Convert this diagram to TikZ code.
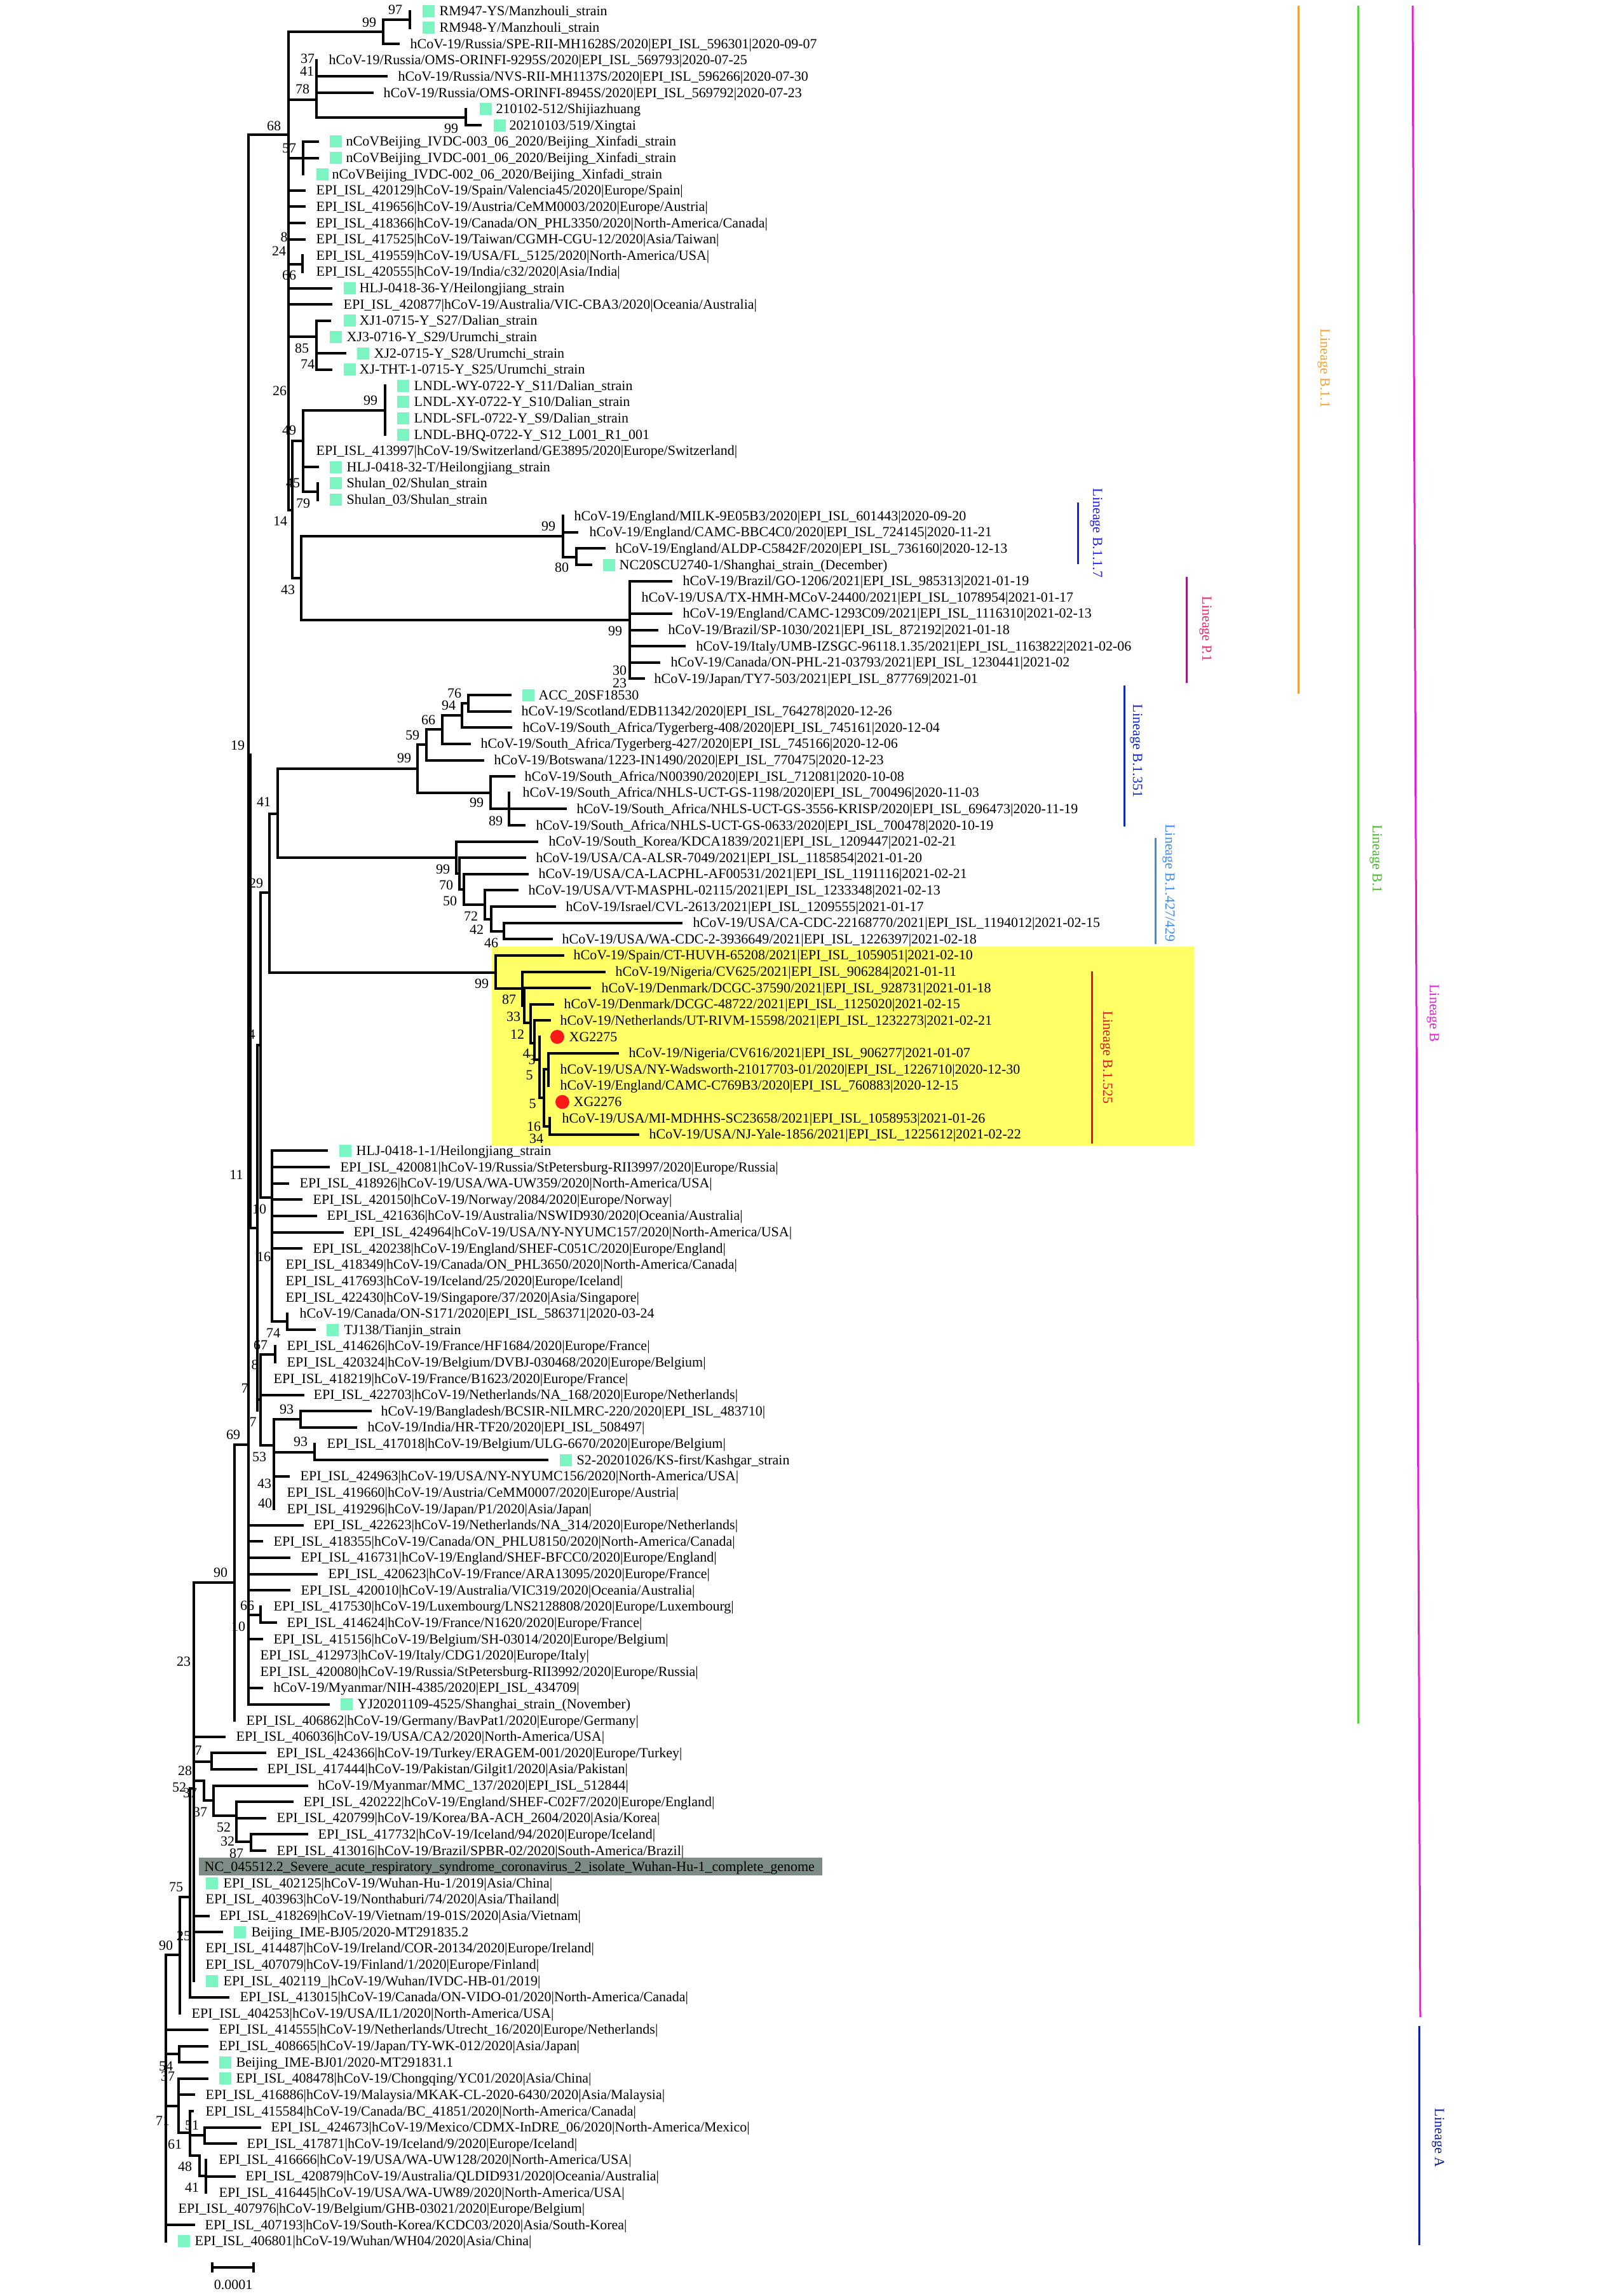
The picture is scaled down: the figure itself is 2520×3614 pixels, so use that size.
\documentclass[tikz,border=0pt]{standalone}
\usepackage{fontspec}
\setmainfont{Liberation Serif}
\newcommand\labfont{\fontsize{6.26pt}{7pt}\selectfont}
\definecolor{sqc}{RGB}{125,245,195}
\definecolor{ybox}{RGB}{255,255,102}
\definecolor{gbox}{RGB}{125,140,133}
\definecolor{cOr}{RGB}{245,160,50}
\definecolor{cGr}{RGB}{80,215,60}
\definecolor{cGrT}{RGB}{70,185,40}
\definecolor{cMg}{RGB}{228,30,212}
\definecolor{cA}{RGB}{12,30,160}
\definecolor{cBa}{RGB}{30,30,235}
\definecolor{cPa}{RGB}{150,30,140}
\definecolor{cPt}{RGB}{232,40,110}
\definecolor{cBb}{RGB}{12,40,190}
\definecolor{cBc}{RGB}{60,140,240}
\definecolor{cBd}{RGB}{220,20,20}
\definecolor{cDot}{RGB}{250,25,25}
\tikzset{
  br/.style={line width=0.4mm, line cap=rect},
  lab/.style={anchor=base west, inner sep=0pt, font=\labfont},
  bsn/.style={anchor=center, inner sep=0pt, font=\labfont},
  lin/.style={line width=0.3mm},
  lt/.style={rotate=-90, anchor=center, inner sep=0pt, font=\labfont},
}
\newcommand\Y[1]{18+(#1-1)*25.62}
\newcommand\lf[5]{\draw[br] (#2,{\Y{#1}}) -- (#3,{\Y{#1}}); \node[lab] (t#1) at (#4,{\Y{#1}+7}) {#5};}
\newcommand\lz[3]{\node[lab] (t#1) at (#2,{\Y{#1}+7}) {#3};}
\newcommand\sq[2]{\fill[sqc] (#2,{\Y{#1}-9.5}) rectangle ++(19,19);}
\newcommand\vl[3]{\draw[br] (#1,{#2}) -- (#1,{#3});}
\newcommand\hl[3]{\draw[br] (#2,{#1}) -- (#3,{#1});}
\newcommand\bs[4]{\node[bsn] (b#1) at (#2,#3) {#4};}
\begin{document}
\begin{tikzpicture}[x=0.1mm,y=-0.1mm]
\useasboundingbox (0,0) rectangle (2520,3614);
\fill[white] (0,0) rectangle (2520,3614);
% highlight boxes
\fill[ybox] (774,1490) rectangle (1879,1804);
\fill[gbox] (313,2924) rectangle (1294,2952);
% ---------- internal branches ----------
\vl{391}{212}{\Y{105}}
\vl{394}{1188}{1933}
\hl{212}{391}{454}
\vl{454}{50}{803}
\hl{50}{454}{603}
\vl{603}{31}{\Y{3}}
\hl{31}{603}{645}
\vl{645}{\Y{1}}{\Y{2}}
\hl{157}{454}{498}
\vl{498}{\Y{4}}{185}
\hl{185}{498}{733}
\vl{733}{\Y{7}}{\Y{8}}
\hl{\Y{10}}{454}{477}
\vl{477}{\Y{9}}{\Y{11}}
\hl{416}{454}{476}
\vl{476}{\Y{16}}{\Y{17}}
\hl{\Y{21}}{454}{498}
\vl{498}{\Y{20}}{\Y{23}}
\vl{460}{694}{910}
\hl{803}{454}{460}
\hl{694}{460}{477}
\vl{477}{646}{774}
\hl{646}{477}{606}
\vl{606}{\Y{24}}{\Y{27}}
\hl{774}{477}{500}
\vl{500}{\Y{30}}{\Y{31}}
\hl{910}{460}{474}
\vl{474}{844}{976}
\hl{844}{474}{886}
\vl{886}{\Y{32}}{877}
\hl{877}{886}{907}
\vl{907}{\Y{34}}{\Y{35}}
\hl{976}{474}{991}
\vl{991}{\Y{36}}{\Y{42}}
% B.1.351 / B.1.427 / B.1.525
\vl{437}{1210}{1350}
\hl{1210}{437}{657}
\vl{657}{1172}{1248}
\hl{1172}{657}{671}
\vl{671}{1148}{\Y{47}}
\hl{1148}{671}{696}
\vl{696}{1126}{\Y{46}}
\hl{1126}{696}{727}
\vl{727}{1107}{\Y{45}}
\hl{1107}{727}{737}
\vl{737}{\Y{43}}{\Y{44}}
\hl{1248}{657}{772}
\vl{772}{\Y{48}}{\Y{50}}
\vl{801}{\Y{49}}{\Y{51}}
\hl{1350}{437}{718}
\vl{718}{\Y{52}}{1375}
\hl{1375}{718}{723}
\vl{723}{\Y{53}}{1400}
\hl{1400}{723}{730}
\vl{730}{\Y{54}}{1424}
\hl{1424}{730}{763}
\vl{763}{\Y{55}}{1447}
\hl{1447}{763}{773}
\vl{773}{\Y{56}}{1466}
\hl{1466}{773}{793}
\vl{793}{\Y{57}}{\Y{58}}
\hl{1281}{424}{437}
\vl{424}{1281}{1531}
\hl{1405}{410}{424}
\vl{410}{1405}{1885}
\hl{1531}{424}{780}
\vl{780}{\Y{59}}{1556}
\hl{1556}{780}{822}
\vl{822}{\Y{60}}{1583}
\hl{1583}{822}{825}
\vl{825}{\Y{61}}{1610}
\hl{1610}{825}{835}
\vl{835}{\Y{62}}{1642}
\hl{1642}{835}{841}
\vl{841}{\Y{63}}{1668}
\hl{1668}{841}{849}
\vl{849}{\Y{64}}{1728}
\hl{1728}{849}{856}
\vl{856}{1683}{1773}
\hl{1683}{856}{863}
\vl{863}{\Y{65}}{\Y{67}}
\hl{1773}{856}{865}
\vl{865}{\Y{69}}{\Y{70}}
% middle
\hl{1645}{405}{410}
\vl{405}{1645}{2220}
\hl{1933}{394}{405}
\hl{1885}{410}{428}
\vl{428}{\Y{71}}{2080}
\hl{2080}{428}{452}
\vl{452}{\Y{81}}{\Y{82}}
\hl{2203}{405}{410}
\vl{410}{2132}{2275}
\hl{2132}{410}{433}
\vl{433}{\Y{83}}{\Y{84}}
\hl{2275}{410}{431}
\vl{431}{2234}{\Y{93}}
\hl{2234}{431}{473}
\vl{473}{\Y{87}}{\Y{88}}
\hl{2286}{431}{495}
\vl{495}{\Y{89}}{\Y{90}}
% lower
\hl{2274}{369}{391}
\vl{369}{2274}{\Y{106}}
\hl{2491}{305}{369}
\hl{2542}{391}{410}
\vl{410}{\Y{99}}{\Y{100}}
\vl{305}{2491}{\Y{122}}
\hl{2773}{305}{333}
\vl{333}{\Y{108}}{\Y{109}}
\hl{2803}{305}{321}
\vl{321}{2803}{2834}
\hl{2834}{321}{336}
\vl{336}{\Y{110}}{2858}
\hl{2858}{336}{372}
\vl{372}{\Y{111}}{2899}
\hl{2899}{372}{395}
\vl{395}{\Y{113}}{\Y{114}}
\vl{299}{2815}{\Y{123}}
\hl{2815}{299}{305}
\hl{2986}{283}{299}
\vl{283}{2986}{\Y{124}}
\hl{3077}{261}{283}
\vl{261}{3077}{\Y{138}}
\hl{3233}{261}{282}
\vl{282}{\Y{126}}{\Y{127}}
\hl{3315}{261}{281}
\vl{281}{\Y{128}}{3357}
\hl{3357}{281}{299}
\vl{299}{\Y{130}}{3393}
\hl{3361}{299}{322}
\vl{322}{\Y{131}}{\Y{132}}
\hl{3393}{299}{314}
\vl{314}{3393}{3425}
\hl{3425}{314}{324}
\vl{324}{\Y{133}}{\Y{135}}
% ---------- leaves ----------
\sq{1}{665}\lz{1}{691}{RM947-YS/Manzhouli\_strain}
\sq{2}{665}\lz{2}{691}{RM948-Y/Manzhouli\_strain}
\lf{3}{603}{627}{645}{hCoV-19/Russia/SPE-RII-MH1628S/2020|EPI\_ISL\_596301|2020-09-07}
\lz{4}{517}{hCoV-19/Russia/OMS-ORINFI-9295S/2020|EPI\_ISL\_569793|2020-07-25}
\lf{5}{498}{608}{626}{hCoV-19/Russia/NVS-RII-MH1137S/2020|EPI\_ISL\_596266|2020-07-30}
\lf{6}{498}{586}{603}{hCoV-19/Russia/OMS-ORINFI-8945S/2020|EPI\_ISL\_569792|2020-07-23}
\sq{7}{755}\lz{7}{780}{210102-512/Shijiazhuang}
\lf{8}{733}{756}{801}{20210103/519/Xingtai}\sq{8}{777}
\lf{9}{477}{500}{544}{nCoVBeijing\_IVDC-003\_06\_2020/Beijing\_Xinfadi\_strain}\sq{9}{519}
\lf{10}{477}{500}{544}{nCoVBeijing\_IVDC-001\_06\_2020/Beijing\_Xinfadi\_strain}\sq{10}{519}
\lz{11}{522}{nCoVBeijing\_IVDC-002\_06\_2020/Beijing\_Xinfadi\_strain}\sq{11}{498}
\lf{12}{454}{479}{497}{EPI\_ISL\_420129|hCoV-19/Spain/Valencia45/2020|Europe/Spain|}
\lf{13}{454}{479}{497}{EPI\_ISL\_419656|hCoV-19/Austria/CeMM0003/2020|Europe/Austria|}
\lf{14}{454}{479}{497}{EPI\_ISL\_418366|hCoV-19/Canada/ON\_PHL3350/2020|North-America/Canada|}
\lf{15}{454}{479}{497}{EPI\_ISL\_417525|hCoV-19/Taiwan/CGMH-CGU-12/2020|Asia/Taiwan|}
\lz{16}{497}{EPI\_ISL\_419559|hCoV-19/USA/FL\_5125/2020|North-America/USA|}
\lz{17}{497}{EPI\_ISL\_420555|hCoV-19/India/c32/2020|Asia/India|}
\lf{18}{454}{521}{565}{HLJ-0418-36-Y/Heilongjiang\_strain}\sq{18}{541}
\lf{19}{454}{521}{540}{EPI\_ISL\_420877|hCoV-19/Australia/VIC-CBA3/2020|Oceania/Australia|}
\lf{20}{498}{519}{565}{XJ1-0715-Y\_S27/Dalian\_strain}\sq{20}{541}
\lz{21}{545}{XJ3-0716-Y\_S29/Urumchi\_strain}\sq{21}{519}
\lf{22}{498}{543}{588}{XJ2-0715-Y\_S28/Urumchi\_strain}\sq{22}{562}
\lf{23}{498}{521}{565}{XJ-THT-1-0715-Y\_S25/Urumchi\_strain}\sq{23}{541}
\lz{24}{651}{LNDL-WY-0722-Y\_S11/Dalian\_strain}\sq{24}{625}
\lz{25}{651}{LNDL-XY-0722-Y\_S10/Dalian\_strain}\sq{25}{625}
\lz{26}{651}{LNDL-SFL-0722-Y\_S9/Dalian\_strain}\sq{26}{625}
\lz{27}{651}{LNDL-BHQ-0722-Y\_S12\_L001\_R1\_001}\sq{27}{625}
\lz{28}{497}{EPI\_ISL\_413997|hCoV-19/Switzerland/GE3895/2020|Europe/Switzerland|}
\lf{29}{477}{500}{545}{HLJ-0418-32-T/Heilongjiang\_strain}\sq{29}{519}
\lz{30}{545}{Shulan\_02/Shulan\_strain}\sq{30}{519}
\lz{31}{545}{Shulan\_03/Shulan\_strain}\sq{31}{519}
\lz{32}{903}{hCoV-19/England/MILK-9E05B3/2020|EPI\_ISL\_601443|2020-09-20}
\lf{33}{886}{908}{927}{hCoV-19/England/CAMC-BBC4C0/2020|EPI\_ISL\_724145|2020-11-21}
\lf{34}{907}{951}{968}{hCoV-19/England/ALDP-C5842F/2020|EPI\_ISL\_736160|2020-12-13}
\lf{35}{907}{930}{974}{NC20SCU2740-1/Shanghai\_strain\_(December)}\sq{35}{949}
\lf{36}{991}{1056}{1074}{hCoV-19/Brazil/GO-1206/2021|EPI\_ISL\_985313|2021-01-19}
\lz{37}{1009}{hCoV-19/USA/TX-HMH-MCoV-24400/2021|EPI\_ISL\_1078954|2021-01-17}
\lf{38}{991}{1056}{1074}{hCoV-19/England/CAMC-1293C09/2021|EPI\_ISL\_1116310|2021-02-13}
\lf{39}{991}{1034}{1051}{hCoV-19/Brazil/SP-1030/2021|EPI\_ISL\_872192|2021-01-18}
\lf{40}{991}{1077}{1095}{hCoV-19/Italy/UMB-IZSGC-96118.1.35/2021|EPI\_ISL\_1163822|2021-02-06}
\lf{41}{991}{1037}{1055}{hCoV-19/Canada/ON-PHL-21-03793/2021|EPI\_ISL\_1230441|2021-02}
\lf{42}{991}{1013}{1029}{hCoV-19/Japan/TY7-503/2021|EPI\_ISL\_877769|2021-01}
\lf{43}{737}{803}{847}{ACC\_20SF18530}\sq{43}{822}
\lf{44}{737}{803}{820}{hCoV-19/Scotland/EDB11342/2020|EPI\_ISL\_764278|2020-12-26}
\lf{45}{727}{804}{822}{hCoV-19/South\_Africa/Tygerberg-408/2020|EPI\_ISL\_745161|2020-12-04}
\lf{46}{696}{739}{756}{hCoV-19/South\_Africa/Tygerberg-427/2020|EPI\_ISL\_745166|2020-12-06}
\lf{47}{671}{760}{777}{hCoV-19/Botswana/1223-IN1490/2020|EPI\_ISL\_770475|2020-12-23}
\lf{48}{772}{809}{825}{hCoV-19/South\_Africa/N00390/2020|EPI\_ISL\_712081|2020-10-08}
\lz{49}{822}{hCoV-19/South\_Africa/NHLS-UCT-GS-1198/2020|EPI\_ISL\_700496|2020-11-03}
\lf{50}{772}{890}{907}{hCoV-19/South\_Africa/NHLS-UCT-GS-3556-KRISP/2020|EPI\_ISL\_696473|2020-11-19}
\lf{51}{801}{825}{843}{hCoV-19/South\_Africa/NHLS-UCT-GS-0633/2020|EPI\_ISL\_700478|2020-10-19}
\lf{52}{718}{845}{863}{hCoV-19/South\_Korea/KDCA1839/2021|EPI\_ISL\_1209447|2021-02-21}
\lf{53}{723}{826}{843}{hCoV-19/USA/CA-ALSR-7049/2021|EPI\_ISL\_1185854|2021-01-20}
\lf{54}{730}{830}{847}{hCoV-19/USA/CA-LACPHL-AF00531/2021|EPI\_ISL\_1191116|2021-02-21}
\lf{55}{763}{814}{831}{hCoV-19/USA/VT-MASPHL-02115/2021|EPI\_ISL\_1233348|2021-02-13}
\lf{56}{773}{873}{890}{hCoV-19/Israel/CVL-2613/2021|EPI\_ISL\_1209555|2021-01-17}
\lf{57}{793}{1072}{1090}{hCoV-19/USA/CA-CDC-22168770/2021|EPI\_ISL\_1194012|2021-02-15}
\lf{58}{793}{868}{884}{hCoV-19/USA/WA-CDC-2-3936649/2021|EPI\_ISL\_1226397|2021-02-18}
\lf{59}{780}{886}{902}{hCoV-19/Spain/CT-HUVH-65208/2021|EPI\_ISL\_1059051|2021-02-10}
\lf{60}{822}{951}{968}{hCoV-19/Nigeria/CV625/2021|EPI\_ISL\_906284|2021-01-11}
\lf{61}{825}{928}{946}{hCoV-19/Denmark/DCGC-37590/2021|EPI\_ISL\_928731|2021-01-18}
\lf{62}{835}{870}{887}{hCoV-19/Denmark/DCGC-48722/2021|EPI\_ISL\_1125020|2021-02-15}
\lf{63}{841}{865}{881}{hCoV-19/Netherlands/UT-RIVM-15598/2021|EPI\_ISL\_1232273|2021-02-21}
\fill[cDot] (877,{\Y{64}}) circle[radius=1.1mm];
\lz{64}{895}{XG2275}
\lf{65}{863}{972}{989}{hCoV-19/Nigeria/CV616/2021|EPI\_ISL\_906277|2021-01-07}
\lz{66}{881}{hCoV-19/USA/NY-Wadsworth-21017703-01/2020|EPI\_ISL\_1226710|2020-12-30}
\lz{67}{881}{hCoV-19/England/CAMC-C769B3/2020|EPI\_ISL\_760883|2020-12-15}
\fill[cDot] (885,{\Y{68}}) circle[radius=1.1mm];
\lz{68}{902}{XG2276}
\lz{69}{884}{hCoV-19/USA/MI-MDHHS-SC23658/2021|EPI\_ISL\_1058953|2021-01-26}
\lf{70}{865}{1004}{1021}{hCoV-19/USA/NJ-Yale-1856/2021|EPI\_ISL\_1225612|2021-02-22}
\lf{71}{428}{514}{560}{HLJ-0418-1-1/Heilongjiang\_strain}\sq{71}{534}
\lf{72}{428}{517}{535}{EPI\_ISL\_420081|hCoV-19/Russia/StPetersburg-RII3997/2020|Europe/Russia|}
\lf{73}{428}{453}{471}{EPI\_ISL\_418926|hCoV-19/USA/WA-UW359/2020|North-America/USA|}
\lf{74}{428}{474}{492}{EPI\_ISL\_420150|hCoV-19/Norway/2084/2020|Europe/Norway|}
\lf{75}{428}{497}{514}{EPI\_ISL\_421636|hCoV-19/Australia/NSWID930/2020|Oceania/Australia|}
\lf{76}{428}{539}{556}{EPI\_ISL\_424964|hCoV-19/USA/NY-NYUMC157/2020|North-America/USA|}
\lf{77}{428}{474}{492}{EPI\_ISL\_420238|hCoV-19/England/SHEF-C051C/2020|Europe/England|}
\lz{78}{449}{EPI\_ISL\_418349|hCoV-19/Canada/ON\_PHL3650/2020|North-America/Canada|}
\lz{79}{449}{EPI\_ISL\_417693|hCoV-19/Iceland/25/2020|Europe/Iceland|}
\lz{80}{449}{EPI\_ISL\_422430|hCoV-19/Singapore/37/2020|Asia/Singapore|}
\lz{81}{471}{hCoV-19/Canada/ON-S171/2020|EPI\_ISL\_586371|2020-03-24}
\lf{82}{452}{495}{541}{TJ138/Tianjin\_strain}\sq{82}{514}
\lz{83}{451}{EPI\_ISL\_414626|hCoV-19/France/HF1684/2020|Europe/France|}
\lz{84}{451}{EPI\_ISL\_420324|hCoV-19/Belgium/DVBJ-030468/2020|Europe/Belgium|}
\lz{85}{430}{EPI\_ISL\_418219|hCoV-19/France/B1623/2020|Europe/France|}
\lf{86}{410}{477}{493}{EPI\_ISL\_422703|hCoV-19/Netherlands/NA\_168/2020|Europe/Netherlands|}
\lf{87}{473}{583}{599}{hCoV-19/Bangladesh/BCSIR-NILMRC-220/2020|EPI\_ISL\_483710|}
\lf{88}{473}{560}{578}{hCoV-19/India/HR-TF20/2020|EPI\_ISL\_508497|}
\lz{89}{514}{EPI\_ISL\_417018|hCoV-19/Belgium/ULG-6670/2020|Europe/Belgium|}
\lf{90}{495}{861}{907}{S2-20201026/KS-first/Kashgar\_strain}\sq{90}{881}
\lf{91}{431}{454}{472}{EPI\_ISL\_424963|hCoV-19/USA/NY-NYUMC156/2020|North-America/USA|}
\lz{92}{451}{EPI\_ISL\_419660|hCoV-19/Austria/CeMM0007/2020|Europe/Austria|}
\lz{93}{451}{EPI\_ISL\_419296|hCoV-19/Japan/P1/2020|Asia/Japan|}
\lf{94}{391}{476}{493}{EPI\_ISL\_422623|hCoV-19/Netherlands/NA\_314/2020|Europe/Netherlands|}
\lf{95}{391}{412}{430}{EPI\_ISL\_418355|hCoV-19/Canada/ON\_PHLU8150/2020|North-America/Canada|}
\lf{96}{391}{455}{473}{EPI\_ISL\_416731|hCoV-19/England/SHEF-BFCC0/2020|Europe/England|}
\lf{97}{391}{498}{516}{EPI\_ISL\_420623|hCoV-19/France/ARA13095/2020|Europe/France|}
\lf{98}{391}{455}{473}{EPI\_ISL\_420010|hCoV-19/Australia/VIC319/2020|Oceania/Australia|}
\lz{99}{430}{EPI\_ISL\_417530|hCoV-19/Luxembourg/LNS2128808/2020|Europe/Luxembourg|}
\lf{100}{410}{434}{451}{EPI\_ISL\_414624|hCoV-19/France/N1620/2020|Europe/France|}
\lf{101}{391}{412}{430}{EPI\_ISL\_415156|hCoV-19/Belgium/SH-03014/2020|Europe/Belgium|}
\lz{102}{409}{EPI\_ISL\_412973|hCoV-19/Italy/CDG1/2020|Europe/Italy|}
\lz{103}{409}{EPI\_ISL\_420080|hCoV-19/Russia/StPetersburg-RII3992/2020|Europe/Russia|}
\lf{104}{391}{412}{430}{hCoV-19/Myanmar/NIH-4385/2020|EPI\_ISL\_434709|}
\lf{105}{391}{517}{562}{YJ20201109-4525/Shanghai\_strain\_(November)}\sq{105}{536}
\lz{106}{387}{EPI\_ISL\_406862|hCoV-19/Germany/BavPat1/2020|Europe/Germany|}
\lf{107}{305}{353}{371}{EPI\_ISL\_406036|hCoV-19/USA/CA2/2020|North-America/USA|}
\lf{108}{333}{417}{435}{EPI\_ISL\_424366|hCoV-19/Turkey/ERAGEM-001/2020|Europe/Turkey|}
\lf{109}{333}{403}{420}{EPI\_ISL\_417444|hCoV-19/Pakistan/Gilgit1/2020|Asia/Pakistan|}
\lf{110}{336}{483}{500}{hCoV-19/Myanmar/MMC\_137/2020|EPI\_ISL\_512844|}
\lf{111}{372}{460}{477}{EPI\_ISL\_420222|hCoV-19/England/SHEF-C02F7/2020|Europe/England|}
\lf{112}{372}{417}{435}{EPI\_ISL\_420799|hCoV-19/Korea/BA-ACH\_2604/2020|Asia/Korea|}
\lf{113}{395}{483}{500}{EPI\_ISL\_417732|hCoV-19/Iceland/94/2020|Europe/Iceland|}
\lf{114}{395}{417}{435}{EPI\_ISL\_413016|hCoV-19/Brazil/SPBR-02/2020|South-America/Brazil|}
\lz{115}{321}{NC\_045512.2\_Severe\_acute\_respiratory\_syndrome\_coronavirus\_2\_isolate\_Wuhan-Hu-1\_complete\_genome}
\lz{116}{351}{EPI\_ISL\_402125|hCoV-19/Wuhan-Hu-1/2019|Asia/China|}\sq{116}{324}
\lz{117}{323}{EPI\_ISL\_403963|hCoV-19/Nonthaburi/74/2020|Asia/Thailand|}
\lf{118}{305}{328}{345}{EPI\_ISL\_418269|hCoV-19/Vietnam/19-01S/2020|Asia/Vietnam|}
\lf{119}{305}{349}{395}{Beijing\_IME-BJ05/2020-MT291835.2}\sq{119}{368}
\lz{120}{323}{EPI\_ISL\_414487|hCoV-19/Ireland/COR-20134/2020|Europe/Ireland|}
\lz{121}{323}{EPI\_ISL\_407079|hCoV-19/Finland/1/2020|Europe/Finland|}
\lz{122}{351}{EPI\_ISL\_402119\_|hCoV-19/Wuhan/IVDC-HB-01/2019|}\sq{122}{324}
\lf{123}{299}{359}{377}{EPI\_ISL\_413015|hCoV-19/Canada/ON-VIDO-01/2020|North-America/Canada|}
\lz{124}{301}{EPI\_ISL\_404253|hCoV-19/USA/IL1/2020|North-America/USA|}
\lf{125}{261}{326}{344}{EPI\_ISL\_414555|hCoV-19/Netherlands/Utrecht\_16/2020|Europe/Netherlands|}
\lf{126}{282}{326}{344}{EPI\_ISL\_408665|hCoV-19/Japan/TY-WK-012/2020|Asia/Japan|}
\lf{127}{282}{326}{371}{Beijing\_IME-BJ01/2020-MT291831.1}\sq{127}{345}
\lf{128}{281}{326}{371}{EPI\_ISL\_408478|hCoV-19/Chongqing/YC01/2020|Asia/China|}\sq{128}{345}
\lf{129}{281}{305}{323}{EPI\_ISL\_416886|hCoV-19/Malaysia/MKAK-CL-2020-6430/2020|Asia/Malaysia|}
\lf{130}{299}{303}{323}{EPI\_ISL\_415584|hCoV-19/Canada/BC\_41851/2020|North-America/Canada|}
\lf{131}{322}{409}{426}{EPI\_ISL\_424673|hCoV-19/Mexico/CDMX-InDRE\_06/2020|North-America/Mexico|}
\lf{132}{322}{371}{388}{EPI\_ISL\_417871|hCoV-19/Iceland/9/2020|Europe/Iceland|}
\lz{133}{344}{EPI\_ISL\_416666|hCoV-19/USA/WA-UW128/2020|North-America/USA|}
\lf{134}{324}{369}{386}{EPI\_ISL\_420879|hCoV-19/Australia/QLDID931/2020|Oceania/Australia|}
\lz{135}{344}{EPI\_ISL\_416445|hCoV-19/USA/WA-UW89/2020|North-America/USA|}
\lz{136}{280}{EPI\_ISL\_407976|hCoV-19/Belgium/GHB-03021/2020|Europe/Belgium|}
\lf{137}{261}{305}{322}{EPI\_ISL\_407193|hCoV-19/South-Korea/KCDC03/2020|Asia/South-Korea|}
\lz{138}{306}{EPI\_ISL\_406801|hCoV-19/Wuhan/WH04/2020|Asia/China|}\sq{138}{280}
% ---------- bootstrap values ----------
\bs{1}{622}{15}{97}
\bs{2}{581}{35}{99}
\bs{3}{484}{92}{37}
\bs{4}{483}{112}{41}
\bs{5}{476}{140}{78}
\bs{6}{710}{202}{99}
\bs{7}{431}{198}{68}
\bs{8}{455}{233}{57}
\bs{9}{447}{373}{8}
\bs{10}{439}{395}{24}
\bs{11}{455}{433}{66}
\bs{12}{475}{548}{85}
\bs{13}{484}{573}{74}
\bs{14}{440}{615}{26}
\bs{15}{583}{630}{99}
\bs{16}{455}{677}{49}
\bs{17}{461}{760}{45}
\bs{18}{477}{792}{79}
\bs{19}{441}{820}{14}
\bs{20}{863}{828}{99}
\bs{21}{884}{893}{80}
\bs{22}{453}{928}{43}
\bs{23}{968}{993}{99}
\bs{24}{975}{1055}{30}
\bs{25}{975}{1075}{23}
\bs{26}{715}{1091}{76}
\bs{27}{706}{1110}{94}
\bs{28}{674}{1133}{66}
\bs{29}{649}{1157}{59}
\bs{30}{636}{1193}{99}
\bs{31}{374}{1173}{19}
\bs{32}{415}{1262}{41}
\bs{33}{750}{1263}{99}
\bs{34}{780}{1292}{89}
\bs{35}{697}{1368}{99}
\bs{36}{702}{1393}{70}
\bs{37}{708}{1418}{50}
\bs{38}{741}{1442}{72}
\bs{39}{750}{1463}{42}
\bs{40}{773}{1484}{46}
\bs{41}{403}{1390}{29}
\bs{42}{758}{1548}{99}
\bs{43}{801}{1573}{87}
\bs{44}{808}{1600}{33}
\bs{45}{814}{1628}{12}
\bs{46}{828}{1658}{4}
\bs{47}{837}{1668}{3}
\bs{48}{833}{1692}{5}
\bs{49}{838}{1737}{5}
\bs{50}{840}{1773}{16}
\bs{51}{844}{1792}{34}
\bs{52}{396}{1628}{4}
\bs{53}{372}{1849}{11}
\bs{54}{408}{1903}{10}
\bs{55}{415}{1978}{16}
\bs{56}{430}{2098}{74}
\bs{57}{410}{2117}{67}
\bs{58}{401}{2148}{8}
\bs{59}{385}{2185}{7}
\bs{60}{398}{2238}{7}
\bs{61}{451}{2218}{93}
\bs{62}{473}{2269}{93}
\bs{63}{408}{2293}{53}
\bs{64}{416}{2335}{43}
\bs{65}{417}{2366}{40}
\bs{66}{367}{2258}{69}
\bs{67}{347}{2475}{90}
\bs{68}{389}{2527}{66}
\bs{69}{375}{2560}{10}
\bs{70}{289}{2615}{23}
\bs{71}{312}{2755}{7}
\bs{72}{291}{2787}{28}
\bs{73}{282}{2813}{52}
\bs{74}{299}{2822}{37}
\bs{75}{315}{2852}{37}
\bs{76}{352}{2876}{52}
\bs{77}{358}{2898}{32}
\bs{78}{372}{2917}{87}
\bs{79}{277}{2970}{75}
\bs{80}{289}{3047}{25}
\bs{81}{261}{3062}{90}
\bs{82}{261}{3252}{54}
\bs{83}{264}{3268}{37}
\bs{84}{256}{3338}{71}
\bs{85}{302}{3345}{51}
\bs{86}{275}{3375}{61}
\bs{87}{291}{3410}{48}
\bs{88}{302}{3443}{41}
% ---------- lineage bars ----------
\draw[lin,cBa] (1696,791) -- (1696,888);
\node[lt,text=cBa] (lBa) at (1725,839) {Lineage B.1.1.7};
\draw[lin,cPa] (1867,908) -- (1867,1075);
\node[lt,text=cPt] (lPa) at (1897,990) {Lineage P.1};
\draw[lin,cBb] (1769,1079) -- (1769,1301);
\node[lt,text=cBb] (lBb) at (1788,1182) {Lineage B.1.351};
\draw[lin,cBc] (1818,1319) -- (1818,1486);
\node[lt,text=cBc] (lBc) at (1839,1390) {Lineage B.1.427/429};
\draw[lin,cBd] (1718,1529) -- (1718,1800);
\node[lt,text=cBd] (lBd) at (1741,1664) {Lineage B.1.525};
\draw[lin,cOr] (2043,9) -- (2043,1092);
\node[lt,text=cOr] (lOr) at (2083,580) {Lineage B.1.1};
\draw[lin,cGr] (2137,9) -- (2137,2713);
\node[lt,text=cGrT] (lGr) at (2165,1352) {Lineage B.1};
\draw[lin,cMg] (2223,9) -- (2235,3175);
\node[lt,text=cMg] (lMg) at (2255,1595) {Lineage B};
\draw[lin,cA] (2233,3189) -- (2233,3534);
\node[lt,text=cA] (lA) at (2263,3365) {Lineage A};
% ---------- scale bar ----------
\coordinate (sL) at (334,3569);
\coordinate (sR) at (399,3569);
\draw[line width=0.35mm] (sL) -- (sR);
\draw[line width=0.35mm] ([yshift=0.8mm]sL) -- ([yshift=-0.8mm]sL);
\draw[line width=0.35mm] ([yshift=0.8mm]sR) -- ([yshift=-0.8mm]sR);
\node[bsn] (scale) at (367,3596) {0.0001};
\end{tikzpicture}
\end{document}
